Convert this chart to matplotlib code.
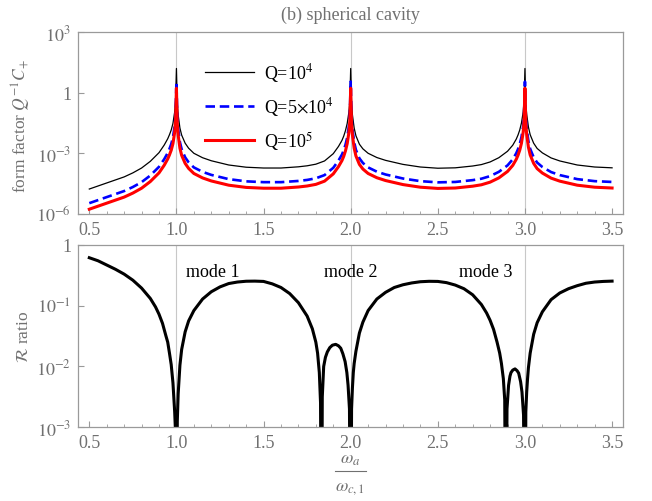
import numpy as np
import matplotlib
matplotlib.use('Agg')
import matplotlib.pyplot as plt
from matplotlib.lines import Line2D
from matplotlib.ticker import FixedLocator, FixedFormatter, MultipleLocator

plt.rcParams['font.family'] = 'serif'
plt.rcParams['font.serif'] = ['Liberation Serif', 'DejaVu Serif']
plt.rcParams['mathtext.fontset'] = 'stix'

GRAY = '#707070'
SPINE = '#9a9a9a'

# frequency grid for the form factor (omega_a / omega_c1)
x_top = [0.5, 0.6, 0.7, 0.75, 0.8, 0.85, 0.9, 0.93, 0.95, 0.96, 0.97, 0.98, 0.99, 0.995, 1.0,
         1.005, 1.01, 1.02, 1.03, 1.05, 1.07, 1.1, 1.15, 1.2, 1.3, 1.4, 1.5, 1.6, 1.7, 1.75,
         1.8, 1.85, 1.9, 1.93, 1.95, 1.96, 1.97, 1.98, 1.99, 1.995, 2.0,
         2.005, 2.01, 2.02, 2.03, 2.05, 2.07, 2.1, 2.15, 2.2, 2.3, 2.4, 2.5, 2.6, 2.7, 2.75,
         2.8, 2.85, 2.9, 2.93, 2.95, 2.96, 2.97, 2.98, 2.99, 2.995, 3.0,
         3.005, 3.01, 3.02, 3.03, 3.05, 3.07, 3.1, 3.15, 3.2, 3.3, 3.4, 3.5]

# log10 of Q^-1 C_+ for each quality factor
log_ff_q1e4 = [-4.77, -4.47, -4.17, -3.97, -3.73, -3.40, -2.97, -2.59, -2.28, -2.08, -1.85, -1.52, -0.95, -0.40, 1.20,
               -0.55, -1.10, -1.75, -2.10, -2.50, -2.75, -3.00, -3.22, -3.37, -3.58, -3.69, -3.73, -3.73, -3.67, -3.62,
               -3.54, -3.38, -3.02, -2.66, -2.36, -2.15, -1.88, -1.52, -0.95, -0.40, 1.20,
               -0.55, -1.10, -1.75, -2.13, -2.55, -2.78, -3.00, -3.21, -3.35, -3.55, -3.68, -3.74, -3.72, -3.63, -3.56,
               -3.43, -3.22, -2.90, -2.60, -2.30, -2.10, -1.85, -1.50, -0.95, -0.40, 1.20,
               -0.55, -1.07, -1.70, -2.08, -2.50, -2.76, -2.98, -3.23, -3.38, -3.58, -3.68, -3.72]

log_ff_q5e4 = [-5.47, -5.17, -4.87, -4.67, -4.43, -4.10, -3.67, -3.29, -2.98, -2.78, -2.55, -2.22, -1.65, -1.10, 0.55,
               -1.25, -1.80, -2.45, -2.80, -3.20, -3.45, -3.70, -3.92, -4.07, -4.28, -4.39, -4.43, -4.43, -4.37, -4.32,
               -4.24, -4.08, -3.72, -3.36, -3.06, -2.85, -2.58, -2.22, -1.65, -1.10, 0.55,
               -1.25, -1.80, -2.45, -2.83, -3.25, -3.48, -3.70, -3.91, -4.05, -4.25, -4.38, -4.44, -4.42, -4.33, -4.26,
               -4.13, -3.92, -3.60, -3.30, -3.00, -2.80, -2.55, -2.20, -1.65, -1.10, 0.55,
               -1.25, -1.77, -2.40, -2.78, -3.20, -3.46, -3.68, -3.93, -4.08, -4.28, -4.38, -4.42]

log_ff_q1e5 = [-5.77, -5.47, -5.17, -4.97, -4.73, -4.40, -3.97, -3.59, -3.28, -3.08, -2.85, -2.52, -1.95, -1.40, 0.22,
               -1.55, -2.10, -2.75, -3.10, -3.50, -3.75, -4.00, -4.22, -4.37, -4.58, -4.69, -4.73, -4.73, -4.67, -4.62,
               -4.54, -4.38, -4.02, -3.66, -3.36, -3.15, -2.88, -2.52, -1.95, -1.40, 0.22,
               -1.55, -2.10, -2.75, -3.13, -3.55, -3.78, -4.00, -4.21, -4.35, -4.55, -4.68, -4.74, -4.72, -4.63, -4.56,
               -4.43, -4.22, -3.90, -3.60, -3.30, -3.10, -2.85, -2.50, -1.95, -1.40, 0.22,
               -1.55, -2.07, -2.70, -3.08, -3.50, -3.76, -3.98, -4.23, -4.38, -4.58, -4.68, -4.72]

# ratio R, log10 values (zeros of R written as -6)
x_bot = [0.5, 0.55, 0.6, 0.65, 0.7, 0.75, 0.8, 0.85, 0.88, 0.9, 0.92, 0.94, 0.95, 0.96, 0.97, 0.98, 0.99, 0.995, 1.0,
         1.005, 1.01, 1.02, 1.03, 1.05, 1.07, 1.1, 1.15, 1.2, 1.25, 1.3, 1.35, 1.4, 1.45, 1.5, 1.55, 1.6, 1.65,
         1.7, 1.75, 1.78, 1.8, 1.81, 1.82, 1.827, 1.832,
         1.837, 1.845, 1.855, 1.866, 1.88, 1.895, 1.914, 1.93, 1.943, 1.955, 1.968, 1.978, 1.985, 1.993, 2.0,
         2.005, 2.01, 2.015, 2.02, 2.03, 2.05, 2.07, 2.1, 2.15, 2.2, 2.25, 2.3, 2.35, 2.4, 2.45, 2.5, 2.55, 2.6,
         2.65, 2.7, 2.75, 2.78, 2.8, 2.82, 2.84, 2.855, 2.865, 2.876, 2.884, 2.891,
         2.897, 2.906, 2.914, 2.92, 2.93, 2.943, 2.955, 2.964, 2.975, 2.983, 2.992, 3.0,
         3.005, 3.01, 3.015, 3.02, 3.03, 3.05, 3.07, 3.1, 3.15, 3.2, 3.25, 3.3, 3.35, 3.4, 3.45, 3.5]

log_ratio = [-0.21, -0.26, -0.33, -0.40, -0.48, -0.58, -0.71, -0.88, -1.02, -1.14, -1.29, -1.50, -1.60, -1.78, -1.97, -2.27, -2.75, -3.10, -6,
             -2.90, -2.45, -1.98, -1.72, -1.43, -1.25, -1.08, -0.89, -0.77, -0.69, -0.635, -0.61, -0.597, -0.595, -0.60, -0.64, -0.70, -0.80,
             -0.95, -1.17, -1.38, -1.60, -1.78, -2.10, -2.60, -6,
             -2.50, -2.00, -1.85, -1.76, -1.69, -1.65, -1.636, -1.66, -1.70, -1.79, -1.92, -2.10, -2.31, -2.70, -6,
             -2.70, -2.35, -2.10, -1.95, -1.75, -1.45, -1.27, -1.08, -0.89, -0.78, -0.70, -0.655, -0.625, -0.605, -0.598, -0.60, -0.62, -0.66,
             -0.72, -0.82, -0.98, -1.12, -1.24, -1.39, -1.60, -1.78, -1.95, -2.20, -2.55, -6,
             -2.70, -2.31, -2.16, -2.10, -2.06, -2.04, -2.07, -2.11, -2.25, -2.42, -2.80, -6,
             -2.75, -2.42, -2.20, -2.02, -1.78, -1.47, -1.28, -1.10, -0.90, -0.79, -0.72, -0.67, -0.63, -0.61, -0.60, -0.595]

mode_centres = [1.0, 2.0, 3.0]
mode_labels = ['mode 1', 'mode 2', 'mode 3']
mode_label_x = [1.206, 2.0, 2.776]

x_ticks = [0.5, 1.0, 1.5, 2.0, 2.5, 3.0, 3.5]


def style_axes(ax):
    for side in ['left', 'right', 'top', 'bottom']:
        ax.spines[side].set_color(SPINE)
        ax.spines[side].set_linewidth(0.9)
    ax.set_xlim(0.435, 3.563)
    ax.xaxis.set_major_locator(FixedLocator(x_ticks))
    ax.xaxis.set_major_formatter(FixedFormatter(['%.1f' % t for t in x_ticks]))
    ax.xaxis.set_minor_locator(MultipleLocator(0.1))
    ax.tick_params(which='both', direction='in', color=SPINE, labelcolor=GRAY,
                   labelsize=13, top=False, right=False)
    ax.tick_params(which='major', length=4.5, width=0.8, pad=5)
    ax.tick_params(which='minor', length=2.5, width=0.6)
    for xc in mode_centres:
        ax.axvline(xc, color='#c8c8c8', lw=0.8, zorder=0)


fig = plt.figure(figsize=(6.52, 5.02), dpi=100)
ax1 = fig.add_axes([0.1196, 0.572, 0.836, 0.362])
ax2 = fig.add_axes([0.1196, 0.147, 0.836, 0.363])

# top panel: form factor
xt = np.array(x_top)
ax1.plot(xt, 10.0 ** np.array(log_ff_q1e4), color='black', lw=0.9, label=r'Q=10$^4$')
ax1.plot(xt, 10.0 ** np.array(log_ff_q5e4), color='#0000ff', lw=1.9,
         linestyle=(0, (3.6, 1.8)), label=r'Q=5$\times$10$^4$')
ax1.plot(xt, 10.0 ** np.array(log_ff_q1e5), color='#ff0000', lw=2.2, label=r'Q=10$^5$')
ax1.set_yscale('log')
ax1.set_ylim(1e-6, 1e3)
style_axes(ax1)
ax1.yaxis.set_major_locator(FixedLocator([1e-6, 1e-3, 1, 1e3]))
ax1.yaxis.set_major_formatter(FixedFormatter([r'$10^{-6}$', r'$10^{-3}$', '1', r'$10^{3}$']))
ax1.yaxis.set_minor_locator(FixedLocator([]))
ax1.set_ylabel(r'form factor $Q^{-1}C_{+}$', color=GRAY, fontsize=12.5)
ax1.yaxis.set_label_coords(-0.083, 0.49)
ax1.legend(loc='upper left', bbox_to_anchor=(0.233, 0.84), frameon=False, fontsize=13,
           handlelength=2.7, handletextpad=0.55, labelspacing=0.6, borderpad=0, borderaxespad=0)

# bottom panel: ratio R
ax2.plot(np.array(x_bot), 10.0 ** np.array(log_ratio), color='black', lw=2.2)
ax2.set_yscale('log')
ax2.set_ylim(1e-3, 1)
style_axes(ax2)
ax2.yaxis.set_major_locator(FixedLocator([1e-3, 1e-2, 1e-1, 1]))
ax2.yaxis.set_major_formatter(FixedFormatter([r'$10^{-3}$', r'$10^{-2}$', r'$10^{-1}$', '1']))
ax2.yaxis.set_minor_locator(FixedLocator([]))
ax2.set_ylabel(r'$\mathcal{R}$ ratio', color=GRAY, fontsize=12.5)
ax2.yaxis.set_label_coords(-0.084, 0.5)
for lx, lab in zip(mode_label_x, mode_labels):
    ax2.text(lx, 0.363, lab, ha='center', va='center', fontsize=13, color='black')

fig.text(350.5 / 652, 0.97, '(b) spherical cavity', ha='center', va='center', fontsize=13, color=GRAY)

# x label drawn as a stacked fraction
fig.text(350.5 / 652, 1 - 460 / 502, r'$\omega_a$', ha='center', va='center', fontsize=13, color=GRAY)
fig.text(350.5 / 652, 1 - 489 / 502, r'$\omega_{c,1}$', ha='center', va='center', fontsize=13, color=GRAY)
fig.add_artist(Line2D([335 / 652, 366 / 652], [1 - 472 / 502, 1 - 472 / 502],
                      transform=fig.transFigure, color=GRAY, lw=0.8))

fig.savefig('out.png', dpi=100)
